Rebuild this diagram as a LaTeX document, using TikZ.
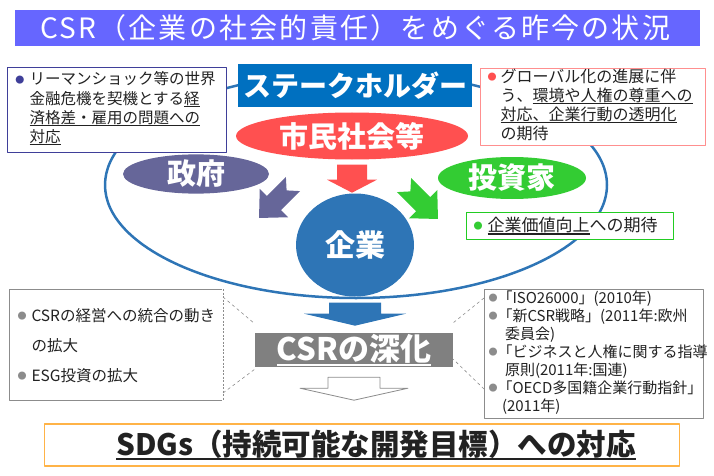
\documentclass[tikz,border=0pt]{standalone}
\usepackage{fontspec}
\setmainfont{Noto Sans CJK JP}
\newfontfamily\titlefont[LetterSpace=8]{Noto Sans CJK JP}
\usetikzlibrary{positioning,shapes.geometric}

\definecolor{titleblue}{HTML}{6666FF}
\definecolor{shblue}{HTML}{0070C0}
\definecolor{entblue}{HTML}{2E75B6}
\definecolor{civred}{HTML}{FF5050}
\definecolor{govpurple}{HTML}{666699}
\definecolor{invgreen}{HTML}{33CC33}
\definecolor{boxnavy}{HTML}{3F3F99}
\definecolor{boxpink}{HTML}{FF8F8F}
\definecolor{boxgreen}{HTML}{22CC22}
\definecolor{boxgray}{HTML}{8C8C8C}
\definecolor{csrgray}{HTML}{808080}
\definecolor{sdgorange}{HTML}{FFB347}
\definecolor{inktext}{HTML}{222222}

\newsavebox{\ulbox}
\newcommand{\ul}[1]{\sbox{\ulbox}{#1}\rlap{\rule[-0.17em]{\wd\ulbox}{0.07em}}\usebox{\ulbox}}
\newcommand{\dotb}[1]{\raisebox{0.12em}{\textcolor{#1}{\fontsize{9}{9}\selectfont ●}}}

\tikzset{
  player/.style={ellipse,inner sep=0pt,text=white,font=\bfseries\fontsize{29}{29}\selectfont},
  infobox/.style={draw,fill=white,line width=1pt,inner xsep=8pt,inner ysep=0pt,anchor=north west,align=left,text=inktext},
}

\begin{document}
\begin{tikzpicture}[x=1pt,y=-1pt,line join=round]
\useasboundingbox (0,0) rectangle (714,476);

% title band
\node[fill=titleblue,minimum width=685pt,minimum height=36pt,anchor=north west,inner sep=0pt] (title) at (15,10) {};
\node[anchor=west,text=white,font=\titlefont\fontsize{28}{28}\selectfont,inner sep=0pt] (titletext) at ([xshift=25pt]title.west) {CSR（企業の社会的責任）をめぐる昨今の状況};

% stakeholder ring
\draw[entblue,line width=2.5pt] (356,185) ellipse [x radius=251, y radius=113];

\node[player,fill=civred,minimum width=232pt,minimum height=47pt] (civil) at (352,136) {市民社会等};
\node[player,fill=govpurple,minimum width=146pt,minimum height=38pt] (gov) at (196,174) {政府};
\node[player,fill=invgreen,minimum width=148pt,minimum height=42pt] (investor) at (512,178) {投資家};
\node[player,fill=entblue,minimum width=118pt,minimum height=103pt,font=\bfseries\fontsize{30}{30}\selectfont] (firm) at (355,245) {企業};

\node[fill=shblue,minimum width=234pt,minimum height=43pt,inner sep=0pt,text=white,font=\bfseries\fontsize{28}{28}\selectfont] (stake) at (355,86) {ステークホルダー};

% block arrows into the ring
\fill[civred] ([shift={(-15,5)}]civil.south) -- ++(30,0) -- ++(0,15) -- ++(10,0) -- ++(-25,13) -- ++(-25,-13) -- ++(10,0) -- cycle;
\begin{scope}[shift={(276,201)},rotate=-135]
\fill[govpurple] (-24,-10) -- (-15,0) -- (-24,10) -- (3,10) -- (3,20) -- (24,0) -- (3,-20) -- (3,-10) -- cycle;
\end{scope}
\begin{scope}[shift={(421,202)},rotate=-45]
\fill[invgreen] (-24,-10) -- (-15,0) -- (-24,10) -- (3,10) -- (3,20) -- (24,0) -- (3,-20) -- (3,-10) -- cycle;
\end{scope}

% expectations
\node[infobox,draw=boxnavy,minimum width=219pt,minimum height=85pt,text width=203pt,font=\fontsize{15.5}{19.3}\selectfont] (crisis) at (7,67)
  {\begin{tabular}{@{}l@{\hspace{5pt}}l@{}}
   \dotb{boxnavy} & リーマンショック等の世界\\
   & 金融危機を契機とする\ul{経}\\
   & \ul{済格差・雇用の問題への}\\
   & \ul{対応}
   \end{tabular}};
\node[infobox,draw=boxpink,minimum width=225pt,minimum height=77pt,text width=211pt,inner xsep=7pt,font=\fontsize{16}{18.3}\selectfont] (trend) at (480,68)
  {\begin{tabular}{@{}l@{\hspace{4pt}}l@{}}
   \dotb{civred} & グローバル化の進展に伴\\
   & う、\ul{環境や人権の尊重への}\\
   & \ul{対応、企業行動の透明化}\\
   & の期待
   \end{tabular}};
\node[infobox,draw=boxgreen,minimum width=207pt,minimum height=27pt,text width=193pt,inner xsep=7pt,font=\fontsize{17}{20}\selectfont] (value) at (466,212)
  {\dotb{invgreen}\hspace{5pt}\ul{企業価値向上}への期待};

% deepening of CSR
\fill[entblue] ([shift={(-26,6)}]firm.south) -- ++(52,0) -- ++(0,11) -- ++(25,0) -- ++(-51,12) -- ++(-51,-12) -- ++(25,0) -- cycle;
\node[fill=csrgray,minimum width=198pt,minimum height=34pt,inner sep=0pt,text=white,font=\bfseries\fontsize{31}{31}\selectfont] (csr) at (354,350) {\ul{CSRの深化}};
\draw[boxgray,fill=white,line width=0.8pt] ([shift={(-26,10)}]csr.south) -- ++(52,0) -- ++(0,11) -- ++(28,0) -- ++(-54,12) -- ++(-54,-12) -- ++(28,0) -- cycle;

\node[infobox,draw=boxgray,minimum width=213pt,minimum height=111pt,text width=197pt,font=\fontsize{15.5}{30}\selectfont] (trendl) at (9,289)
  {\begin{tabular}{@{}l@{\hspace{5pt}}l@{}}
   \dotb{boxgray} & CSRの経営への統合の動き\\
   & の拡大\\
   \dotb{boxgray} & ESG投資の拡大
   \end{tabular}};
\draw[white,line width=1.2pt] (trendl.north east) -- (trendl.south east);
\draw[boxgray,dash pattern=on 2pt off 1.5pt,line width=0.8pt] (trendl.north east) -- (trendl.south east);

\node[infobox,draw=boxgray,minimum width=219pt,minimum height=129pt,text width=211pt,inner xsep=4pt,font=\fontsize{15}{18}\selectfont] (norms) at (484,289)
  {\begin{tabular}{@{}l@{}l@{}}
   \dotb{boxgray} & 「ISO26000」(2010年)\\
   \dotb{boxgray} & 「新CSR戦略」(2011年:欧州\\
   & \hspace{0.5em}委員会)\\
   \dotb{boxgray} & 「ビジネスと人権に関する指導\\
   & \hspace{0.5em}原則(2011年:国連)\\
   \dotb{boxgray} & 「OECD多国籍企業行動指針」\\
   & \hspace{0.3em}(2011年)
   \end{tabular}};

% callout pointers
\draw[boxgray,dashed,line width=0.6pt] ([yshift=-8pt]trendl.north east) -- ([yshift=9pt]csr.north west);
\draw[boxgray,dashed,line width=0.6pt] ([yshift=8pt]trendl.south east) -- ([yshift=-2pt]csr.south west);
\draw[boxgray,dashed,line width=0.6pt] ([yshift=-9pt]norms.north west) -- ([yshift=10pt]csr.north east);
\draw[boxgray,dashed,line width=0.6pt] ([yshift=30pt]norms.south west) -- ([yshift=8pt]csr.south east);

% SDGs
\node[draw=sdgorange,fill=white,line width=1.5pt,minimum width=635pt,minimum height=42pt,inner sep=0pt] (sdg) at (362,445) {};
\node[inner sep=0pt,text=inktext,font=\bfseries\fontsize{29.5}{29.5}\selectfont] (sdgtext) at ([xshift=14pt]sdg.center) {\ul{SDGs（持続可能な開発目標）への対応}};
\end{tikzpicture}
\end{document}
